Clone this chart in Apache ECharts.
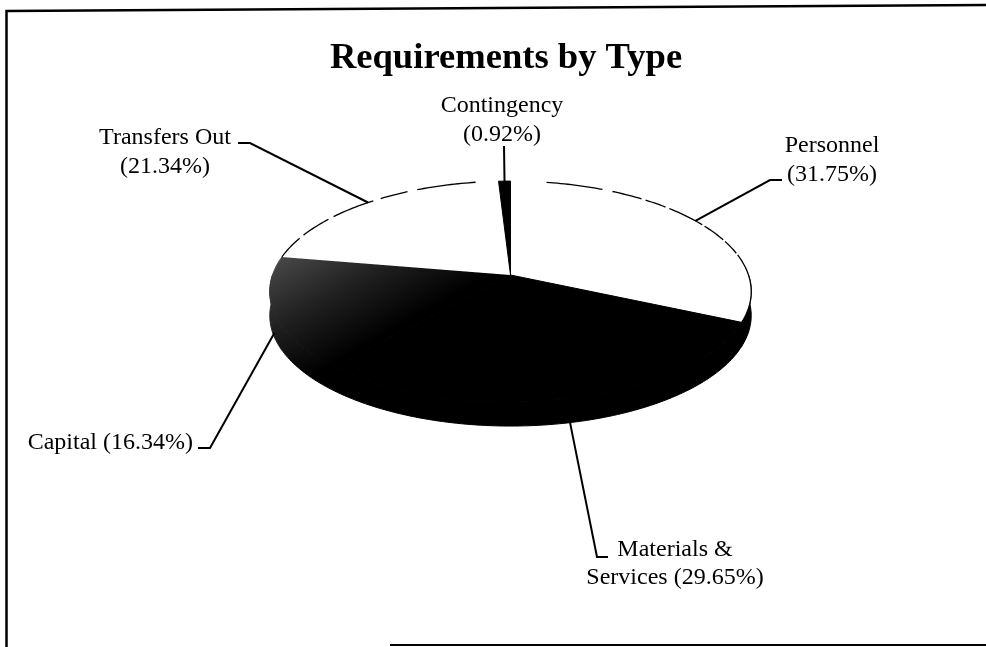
<!DOCTYPE html>
<html>
<head>
<meta charset="utf-8">
<title>Requirements by Type</title>
<script src="https://cdn.jsdelivr.net/npm/echarts@6/dist/echarts.min.js"></script>
<style>
html,body{margin:0;padding:0;background:#fff;}
#main{width:986px;height:647px;}
</style>
</head>
<body>
<div id="main"></div>
<script>
const titleText = 'Requirements by Type';
const categories = ['Personnel', 'Materials &\nServices', 'Capital', 'Transfers Out', 'Contingency'];
const shares = [31.75, 29.65, 16.34, 21.34, 0.92];

const serif = '"Liberation Serif","Times New Roman",serif';
const cx = 510.5, cy = 275, R = 238, S = 108, k = 0.15, depth = 24;

// perspective view of the pie circle, deg is clockwise from 12 o'clock
function rim(deg, dy) {
    const a = deg * Math.PI / 180;
    const u = Math.sin(a), v = -Math.cos(a);
    const w = 1 - k * v;
    return [cx + R * u / w, cy + S * v / w + (dy || 0)];
}
function arcPts(from, to, dy) {
    const pts = [];
    const n = Math.max(2, Math.ceil(Math.abs(to - from)));
    for (let i = 0; i <= n; i++) {
        pts.push(rim(from + (to - from) * i / n, dy));
    }
    return pts;
}
// start and end angle of each slice
const ranges = [];
let acc = 0;
shares.forEach(function (s) {
    ranges.push([acc * 3.6, (acc + s) * 3.6]);
    acc += s;
});

// fades out towards the black slice, like the stipple in the scan
const greyFill = new echarts.graphic.LinearGradient(270, 262, 329, 366, [
    {offset: 0, color: '#484848'},
    {offset: 0.5, color: '#202020'},
    {offset: 1, color: '#000'}
], true);
const faceColors = ['#fff', '#000', greyFill, '#fff', '#000'];
const sideColors = ['#000', '#000', greyFill, '#000', '#000'];

// the scanned outline of the white slices has gaps, these are the parts still there
const rimParts = [[10, 26], [29, 38], [39.3, 46], [47.3, 60], [61, 70], [71, 78], [79, 114.3],
    [279.9, 291], [293, 304], [306, 320], [322.4, 330.7], [333.6, 350.3]];

// label position and the elbow of its leader
const labelLayout = [
    {x: 832, y: 160, align: 'center', elbow: [770, 180], end: [782, 180]},
    {x: 675, y: 563.5, align: 'center', elbow: [597, 557], end: [608, 557]},
    {x: 193, y: 443, align: 'right', elbow: [210, 448], end: [198, 448]},
    {x: 165, y: 152, align: 'center', elbow: [250, 143], end: [238, 143]},
    {x: 502, y: 120, align: 'center', elbow: null, end: [504, 146]}
];
const leaderDepth = [0, depth, 20, 0, 0];

function labelText(i) {
    const pct = '(' + shares[i].toFixed(2) + '%)';
    return categories[i] + (i === 2 || i === 1 ? ' ' : '\n') + pct;
}

const option = {
    animation: false,
    backgroundColor: '#fff',
    title: {
        text: titleText,
        left: 501,
        top: 35,
        textAlign: 'center',
        textStyle: {fontFamily: serif, fontSize: 36.6, fontWeight: 'bold', color: '#000'}
    },
    graphic: [
        {type: 'polyline', shape: {points: [[6.5, 647], [6.5, 11], [986, 5]]}, style: {stroke: '#000', lineWidth: 2.5, fill: null}},
        {type: 'line', shape: {x1: 390, y1: 645, x2: 986, y2: 645}, style: {stroke: '#000', lineWidth: 2}}
    ],
    series: [
        {
            // side wall, only the front half shows
            type: 'custom',
            coordinateSystem: 'none',
            data: shares,
            z: 1,
            renderItem: function (params) {
                const c = sideColors[params.dataIndex];
                const r = ranges[params.dataIndex];
                const from = Math.max(r[0], 90), to = Math.min(r[1], 270);
                if (from >= to) return null;
                const pts = arcPts(from, to, 0).concat(arcPts(to, from, depth));
                return {type: 'polygon', shape: {points: pts}, style: {fill: c, stroke: c, lineWidth: 1}};
            }
        },
        {
            // top face
            type: 'custom',
            coordinateSystem: 'none',
            data: shares,
            z: 2,
            renderItem: function (params) {
                const c = faceColors[params.dataIndex];
                const r = ranges[params.dataIndex];
                const pts = [[cx, cy]].concat(arcPts(r[0], r[1], 0));
                return {
                    type: 'polygon',
                    shape: {points: pts},
                    style: {fill: c, stroke: c === '#fff' ? null : c, lineWidth: 1}
                };
            }
        },
        {
            // outline of the white slices
            type: 'custom',
            coordinateSystem: 'none',
            data: rimParts,
            z: 3,
            renderItem: function (params) {
                const p = rimParts[params.dataIndex];
                return {
                    type: 'polyline',
                    shape: {points: arcPts(p[0], p[1], 0)},
                    style: {stroke: '#000', lineWidth: 1.3, fill: null}
                };
            }
        },
        {
            // leaders and labels
            type: 'custom',
            coordinateSystem: 'none',
            data: shares,
            z: 4,
            renderItem: function (params) {
                const i = params.dataIndex;
                const l = labelLayout[i];
                const r = ranges[i];
                const pts = [rim((r[0] + r[1]) / 2, leaderDepth[i])];
                if (l.elbow) pts.push(l.elbow);
                pts.push(l.end);
                return {
                    type: 'group',
                    children: [
                        {type: 'polyline', shape: {points: pts}, style: {stroke: '#000', lineWidth: 2, fill: null}},
                        {
                            type: 'text',
                            x: l.x,
                            y: l.y,
                            style: {
                                text: labelText(i),
                                fontFamily: serif,
                                fontSize: 24,
                                lineHeight: 28.5,
                                fill: '#000',
                                align: l.align,
                                verticalAlign: 'middle'
                            }
                        }
                    ]
                };
            }
        }
    ]
};

const myChart = echarts.init(document.getElementById('main'));
myChart.setOption(option);
</script>
</body>
</html>
